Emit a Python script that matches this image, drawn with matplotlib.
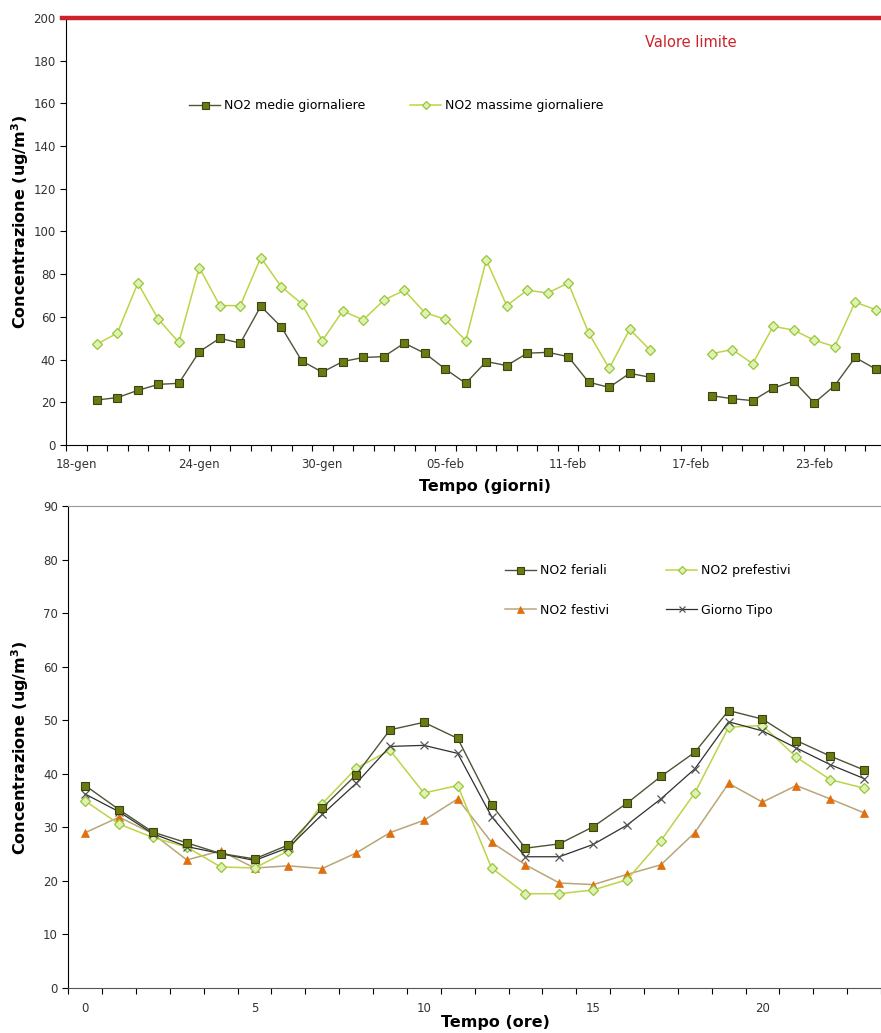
import matplotlib
matplotlib.use("Agg")
import matplotlib.pyplot as plt
import numpy as np

plt.rcParams['font.family'] = ['DejaVu Sans']

# --- grafico 1: medie e massime giornaliere (giorni dal 18-gen) ---
giorni = list(range(1, 29)) + list(range(31, 40))
no2_medie = [21.1, 22.2, 25.6, 28.4, 28.9, 43.7, 50.0, 47.7, 65.0, 55.3,
             39.4, 34.1, 39.1, 41.0, 41.4, 47.7, 43.0, 35.6, 28.9, 39.1,
             37.2, 43.0, 43.4, 41.4, 29.4, 27.0, 33.6, 31.7,
             23.1, 21.7, 20.8, 26.6, 30.0, 19.7, 27.8, 41.0, 35.6]
no2_massime = [47.2, 52.4, 75.8, 58.9, 48.1, 83.1, 65.3, 65.3, 87.8, 74.1,
               66.2, 48.9, 62.8, 58.6, 67.8, 72.5, 62.0, 58.9, 48.9, 86.6,
               65.3, 72.5, 71.2, 75.9, 52.4, 35.9, 54.2, 44.4,
               42.8, 44.7, 38.1, 55.6, 53.8, 49.1, 46.1, 66.9, 63.4]
etichette_date = ['18-gen', '24-gen', '30-gen', '05-feb', '11-feb', '17-feb', '23-feb']
valore_limite = 200

# --- grafico 2: andamento orario ---
ore = list(range(24))
feriali = [37.8, 33.3, 29.1, 27.1, 25.1, 24.1, 26.7, 33.6, 39.8, 48.2, 49.6, 46.6,
           34.2, 26.1, 26.9, 30.1, 34.5, 39.5, 44.0, 51.8, 50.2, 46.2, 43.3, 40.7]
prefestivi = [34.9, 30.6, 28.1, 26.3, 22.6, 22.4, 25.6, 34.4, 41.0, 44.4, 36.4, 37.8,
              22.4, 17.6, 17.6, 18.3, 20.2, 27.5, 36.4, 48.7, 49.0, 43.1, 38.9, 37.3]
festivi = [29.0, 31.9, 28.8, 23.9, 25.6, 22.4, 22.8, 22.3, 25.2, 29.0, 31.3, 35.3,
           27.2, 23.0, 19.6, 19.3, 21.2, 23.0, 29.0, 38.2, 34.7, 37.8, 35.3, 32.7]
giorno_tipo = [36.2, 32.9, 28.8, 26.4, 25.1, 23.8, 26.2, 32.4, 38.2, 45.1, 45.3, 43.8,
               32.0, 24.5, 24.5, 26.8, 30.4, 35.3, 40.9, 49.7, 48.0, 44.8, 41.7, 39.1]

OLIVE = '#6b7a12'
OLIVE_EDGE = '#3b4410'
OLIVE_LINE = '#4a5538'
LIGHT_LINE = '#bdd446'
LIGHT_FILL = '#dcf3b4'
LIGHT_EDGE = '#9cc43a'
ORANGE = '#e06f0c'
TAN_LINE = '#b9a57a'
GREY = '#333333'

fig = plt.figure(figsize=(8.81, 10.33), dpi=100)

# ---------------- top chart ----------------
ax1 = fig.add_axes([0.075, 0.5692, 0.925, 0.4134])
# gap between 15-feb and 18-feb
xg = []
ym = []
yx = []
prev = None
for g, a, b in zip(giorni, no2_medie, no2_massime):
    if prev is not None and g - prev > 1:
        xg.append(np.nan); ym.append(np.nan); yx.append(np.nan)
    xg.append(g + 0.5); ym.append(a); yx.append(b)
    prev = g

ax1.plot(xg, yx, color=LIGHT_LINE, lw=1.1, marker='D', ms=5.5,
         mfc=LIGHT_FILL, mec=LIGHT_EDGE, mew=0.9, label='NO2 massime giornaliere', zorder=3)
ax1.plot(xg, ym, color=OLIVE_LINE, lw=1.0, marker='s', ms=6.3,
         mfc=OLIVE, mec=OLIVE_EDGE, mew=0.8, label='NO2 medie giornaliere', zorder=4)
ax1.axhline(valore_limite, xmin=-0.005, color='#cc2229', lw=3.2, clip_on=False, zorder=5)
ax1.text(30.5, 188.4, 'Valore limite', color='#cc2229', fontsize=10.5, ha='center', va='center')

ax1.set_xlim(0, 39.76)
ax1.set_ylim(0, 200)
ax1.set_yticks(np.arange(0, 201, 20))
ax1.set_xticks(np.arange(0, 40, 1))
ax1.set_xticklabels([])
ax1.set_xticks([0.5 + 6 * i for i in range(len(etichette_date))], minor=True)
ax1.set_xticklabels(etichette_date, minor=True)
ax1.tick_params(axis='x', which='major', direction='out', length=4, color='black')
ax1.tick_params(axis='x', which='minor', length=0, pad=9, labelsize=8.5, labelcolor=GREY)
ax1.tick_params(axis='y', direction='out', length=4, labelsize=8.5, labelcolor=GREY)
for s in ['top', 'right']:
    ax1.spines[s].set_visible(False)

h, l = ax1.get_legend_handles_labels()
ax1.legend(h[::-1], l[::-1], ncol=2, frameon=False, fontsize=9, markerscale=0.8,
           loc='center left', bbox_to_anchor=(0.137, 0.794),
           handlelength=2.5, handletextpad=0.3, columnspacing=3.6)

fig.text(0.551, 1 - 487 / 1033, 'Tempo (giorni)', fontsize=11.5, fontweight='bold',
         ha='center', va='center')
fig.text(0.023, 1 - 222 / 1033, 'Concentrazione (ug/m$^{\\mathregular{3}}$)', fontsize=11.5,
         fontweight='bold', rotation=90, ha='center', va='center')

# ---------------- bottom chart ----------------
ax2 = fig.add_axes([0.0775, 0.0436, 0.9225, 0.4666])
ax2.plot(ore, feriali, color=OLIVE_LINE, lw=1.0, marker='s', ms=6.3,
         mfc=OLIVE, mec=OLIVE_EDGE, mew=0.8, label='NO2 feriali', zorder=4)
ax2.plot(ore, festivi, color=TAN_LINE, lw=1.1, marker='^', ms=6.3,
         mfc=ORANGE, mec=ORANGE, mew=0.5, label='NO2 festivi', zorder=3)
ax2.plot(ore, prefestivi, color=LIGHT_LINE, lw=1.1, marker='D', ms=5.3,
         mfc=LIGHT_FILL, mec=LIGHT_EDGE, mew=0.9, label='NO2 prefestivi', zorder=3)
ax2.plot(ore, giorno_tipo, color='#2f2f2f', lw=0.9, marker='x', ms=6,
         mec='#555555', mew=0.9, label='Giorno Tipo', zorder=3)

ax2.set_xlim(-0.5, 23.13)
ax2.set_ylim(0, 90)
ax2.set_yticks(np.arange(0, 91, 10))
ax2.set_xticks(np.arange(-0.5, 23.6, 1))
ax2.set_xticklabels([])
ax2.set_xticks([0, 5, 10, 15, 20], minor=True)
ax2.set_xticklabels(['0', '5', '10', '15', '20'], minor=True)
ax2.tick_params(axis='x', which='major', direction='out', length=4, color='black')
ax2.tick_params(axis='x', which='minor', length=0, pad=10, labelsize=8.5, labelcolor=GREY)
ax2.tick_params(axis='y', direction='out', length=4, labelsize=8.5, labelcolor=GREY)
ax2.spines['right'].set_visible(False)
ax2.spines['top'].set_color('#999999')
ax2.spines['bottom'].set_color('#555555')

h, l = ax2.get_legend_handles_labels()
ax2.legend(h, l, ncol=2, frameon=False, fontsize=9, markerscale=0.8,
           loc='upper left', bbox_to_anchor=(0.523, 0.902),
           handlelength=2.5, handletextpad=0.3, columnspacing=4.6, labelspacing=2.1)

fig.text(0.562, 1 - 1022 / 1033, 'Tempo (ore)', fontsize=11.5, fontweight='bold',
         ha='center', va='center')
fig.text(0.023, 1 - 748 / 1033, 'Concentrazione (ug/m$^{\\mathregular{3}}$)', fontsize=11.5,
         fontweight='bold', rotation=90, ha='center', va='center')

fig.savefig('out.png', dpi=100)
